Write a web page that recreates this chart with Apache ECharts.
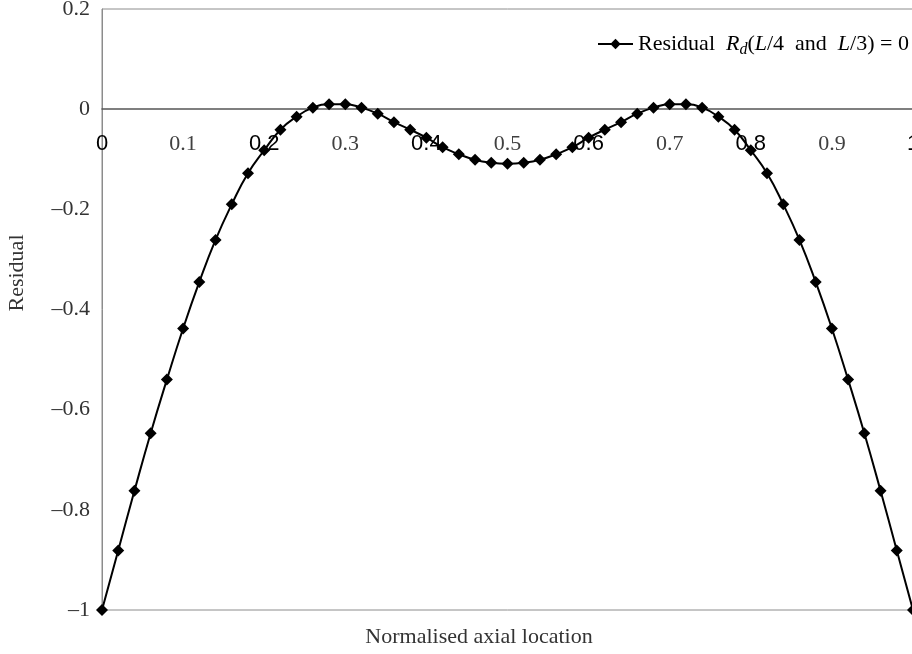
<!DOCTYPE html>
<html><head><meta charset="utf-8">
<script src="https://cdn.jsdelivr.net/npm/echarts@6/dist/echarts.min.js"></script>
<style>html,body{margin:0;padding:0;background:#fff}#chart{width:912px;height:654px}</style>
</head><body><div id="chart"></div>
<script>
const xPositions = [0, 0.02, 0.04, 0.06, 0.08, 0.10, 0.12, 0.14, 0.16, 0.18,
  0.20, 0.22, 0.24, 0.26, 0.28, 0.30, 0.32, 0.34, 0.36, 0.38,
  0.40, 0.42, 0.44, 0.46, 0.48, 0.50, 0.52, 0.54, 0.56, 0.58,
  0.60, 0.62, 0.64, 0.66, 0.68, 0.70, 0.72, 0.74, 0.76, 0.78,
  0.80, 0.82, 0.84, 0.86, 0.88, 0.90, 0.92, 0.94, 0.96, 0.98, 1.00];
const residual = [-1.000, -0.881, -0.762, -0.647, -0.540, -0.438, -0.345, -0.261, -0.190, -0.128,
  -0.082, -0.041, -0.015, 0.003, 0.010, 0.010, 0.003, -0.009, -0.026, -0.041,
  -0.057, -0.076, -0.090, -0.101, -0.107, -0.109, -0.107, -0.101, -0.090, -0.076,
  -0.057, -0.041, -0.026, -0.009, 0.003, 0.010, 0.010, 0.003, -0.015, -0.041,
  -0.082, -0.128, -0.190, -0.261, -0.345, -0.438, -0.540, -0.647, -0.762, -0.881, -1.000];
const xTickLabels = ['0', '0.1', '0.2', '0.3', '0.4', '0.5', '0.6', '0.7', '0.8', '0.9', '1'];
const yTickValues = [-1, -0.8, -0.6, -0.4, -0.2, 0, 0.2];
const yTickLabels = ['\u20131', '\u20130.8', '\u20130.6', '\u20130.4', '\u20130.2', '0', '0.2'];
const seriesName = 'Residual';
const xTitle = 'Normalised axial location';
const yTitle = 'Residual';

const chart = echarts.init(document.getElementById('chart'), null, {renderer: 'canvas'});
const serif = 'Liberation Serif';
const sans = 'Liberation Sans';

const W = 912, Hc = 654;
const gridTop = 9, gridBottom = 44, gridLeft = 102, gridRight = -1;
const yMin = -1, yMax = 0.2;
const plotH = Hc - gridTop - gridBottom;
// place the horizontal axis (line + labels) at y = 0
const xAxisOffset = -plotH * (0 - yMin) / (yMax - yMin);

chart.setOption({
  animation: false,
  backgroundColor: '#fff',
  grid: {left: gridLeft, right: gridRight, top: gridTop, bottom: gridBottom, show: true,
         borderColor: '#8c8c8c', borderWidth: 1, containLabel: false, outerBoundsMode: 'none'},
  legend: {
    left: 592, top: 28, itemWidth: 35, itemHeight: 13, itemGap: 5,
    data: [seriesName],
    formatter: function () { return 'Residual  {i|R}{sub|d}({i|L}/4  and  {i|L}/3) = 0'; },
    textStyle: {
      fontFamily: serif, fontSize: 22, color: '#000',
      rich: {
        i: {fontFamily: serif, fontSize: 22, fontStyle: 'italic', color: '#000'},
        sub: {fontFamily: serif, fontSize: 16, fontStyle: 'italic', color: '#000', padding: [12, 0, 0, 0]}
      }
    }
  },
  xAxis: {
    type: 'value', min: 0, max: 1, interval: 0.1,
    offset: xAxisOffset,
    axisLine: {onZero: false, lineStyle: {color: '#555', width: 1.5}},
    axisTick: {show: false},
    splitLine: {show: false},
    axisLabel: {
      margin: 24,
      formatter: function (v) {
        const idx = Math.round(v * 10);
        const t = xTickLabels[idx];
        return idx % 2 === 0 ? '{s|' + t + '}' : '{t|' + t + '}';
      },
      rich: {
        s: {fontFamily: sans, fontSize: 22, color: '#000'},
        t: {fontFamily: serif, fontSize: 22, color: '#404040'}
      }
    }
  },
  yAxis: {
    type: 'value', min: yMin, max: yMax, interval: 0.2,
    axisLine: {show: true, lineStyle: {color: '#8c8c8c', width: 1}},
    axisTick: {show: false},
    splitLine: {show: false},
    axisLabel: {
      margin: 12, fontFamily: serif, fontSize: 22, color: '#333',
      formatter: function (v) {
        let best = 0;
        for (let i = 0; i < yTickValues.length; i++) {
          if (Math.abs(yTickValues[i] - v) < Math.abs(yTickValues[best] - v)) best = i;
        }
        return yTickLabels[best];
      }
    }
  },
  graphic: [
    {type: 'text', x: 17, y: 273, rotation: Math.PI / 2,
     style: {text: yTitle, fontFamily: serif, fontSize: 22, fill: '#333', textAlign: 'center', textVerticalAlign: 'middle'}},
    {type: 'text', x: 479, y: 637,
     style: {text: xTitle, fontFamily: serif, fontSize: 22, fill: '#333', textAlign: 'center', textVerticalAlign: 'middle'}}
  ],
  series: [{
    name: seriesName, type: 'line', smooth: true,
    data: xPositions.map((x, i) => [x, residual[i]]),
    symbol: 'diamond', symbolSize: 12,
    lineStyle: {color: '#000', width: 2},
    itemStyle: {color: '#000'}
  }]
});
</script>
</body></html>
